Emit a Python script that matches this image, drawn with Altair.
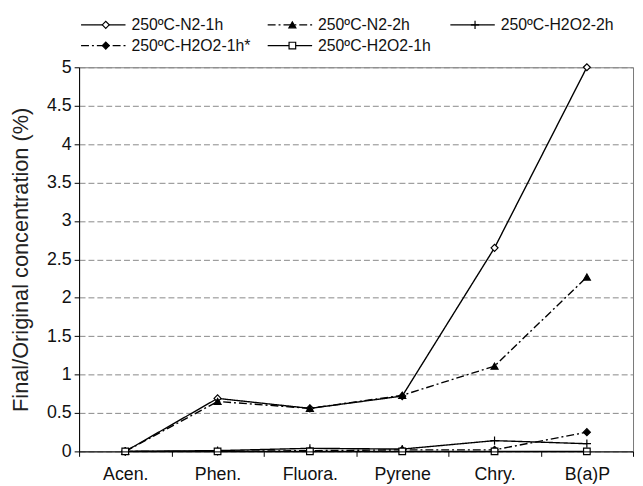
import altair as alt
import pandas as pd

# Compounds on the x axis
compounds = ["Acen.", "Phen.", "Fluora.", "Pyrene", "Chry.", "B(a)P"]

# Final/Original concentration (%)
n2_1h = [0.0, 0.69, 0.56, 0.72, 2.65, 5.0]
n2_2h = [0.0, 0.65, 0.56, 0.73, 1.11, 2.27]
h2o2_2h = [0.0, 0.01, 0.04, 0.03, 0.14, 0.10]
h2o2_1h_star = [0.0, 0.0, 0.01, 0.02, 0.02, 0.25]
h2o2_1h = [0.0, 0.0, 0.0, 0.0, 0.0, 0.0]

series_names = [
    "250ºC-N2-1h",
    "250ºC-N2-2h",
    "250ºC-H2O2-2h",
    "250ºC-H2O2-1h*",
    "250ºC-H2O2-1h",
]
series_values = [n2_1h, n2_2h, h2o2_2h, h2o2_1h_star, h2o2_1h]

y_ticks = [0, 0.5, 1, 1.5, 2, 2.5, 3, 3.5, 4, 4.5, 5]

FONT = "Liberation Sans"
PLUS = "M-1,0L1,0M0,-1L0,1"
DASHDOT = [8, 3, 2, 3]

# per series: dash, shape, fill, marker size, legend column/row
styles = [
    dict(dash=[1, 0], shape="diamond", fill="white", size=50, col=0, row=0),
    dict(dash=DASHDOT, shape="triangle-up", fill="black", size=50, col=1, row=0),
    dict(dash=[1, 0], shape=PLUS, fill="none", size=70, col=2, row=0),
    dict(dash=DASHDOT, shape="diamond", fill="black", size=50, col=0, row=1),
    dict(dash=[1, 0], shape="square", fill="white", size=45, col=1, row=1),
]

legend_cols = [2, 191, 376]
legend_rows = [-43, -22]

W, H = 561, 389

x_enc = alt.X(
    "compound:N",
    sort=compounds,
    scale=alt.Scale(type="band", domain=compounds, paddingInner=0, paddingOuter=0),
    axis=alt.Axis(
        title=None,
        tickBand="extent",
        labelAngle=0,
        labelFontSize=18,
        labelPadding=9,
        tickSize=5,
        tickColor="black",
        domainColor="black",
        labelColor="#111",
        grid=False,
        zindex=1,
    ),
)
y_enc = alt.Y(
    "value:Q",
    scale=alt.Scale(domain=[0, 5], nice=False),
    axis=alt.Axis(
        title="Final/Original concentration (%)",
        values=y_ticks,
        format="~g",
        labelFontSize=18,
        labelPadding=3,
        tickSize=5,
        tickColor="black",
        domainColor="black",
        labelColor="#111",
        titleFontSize=22,
        titleFontWeight="normal",
        titleColor="#222",
        titlePadding=14,
        grid=True,
        gridColor="#888",
        gridDash=[6, 3],
        gridWidth=1,
    ),
)

layers = []
for name, vals, st in zip(series_names, series_values, styles):
    df = pd.DataFrame({"compound": compounds, "value": vals})
    base = alt.Chart(df).encode(x=x_enc, y=y_enc)
    line = base.mark_line(color="black", strokeWidth=1.4, strokeDash=st["dash"])
    pts = base.mark_point(
        shape=st["shape"],
        size=st["size"],
        filled=False,
        fill=st["fill"],
        fillOpacity=1,
        stroke="black",
        strokeWidth=1.2,
        opacity=1,
    )
    layers += [line, pts]

# custom two-row legend above the plot
one = pd.DataFrame({"k": [0]})
for name, st in zip(series_names, styles):
    x0 = legend_cols[st["col"]]
    y0 = legend_rows[st["row"]]
    lg_line = alt.Chart(one).mark_rule(
        color="black", strokeWidth=1.3, strokeDash=st["dash"]
    ).encode(x=alt.value(x0), x2=alt.value(x0 + 45), y=alt.value(y0))
    lg_pt = alt.Chart(one).mark_point(
        shape=st["shape"],
        size=st["size"],
        filled=False,
        fill=st["fill"],
        fillOpacity=1,
        stroke="black",
        strokeWidth=1.2,
        opacity=1,
    ).encode(x=alt.value(x0 + 25), y=alt.value(y0))
    lg_txt = alt.Chart(one).mark_text(
        text=name, align="left", baseline="middle", fontSize=16, font=FONT, color="#111"
    ).encode(x=alt.value(x0 + 51), y=alt.value(y0))
    layers += [lg_line, lg_pt, lg_txt]

chart = (
    alt.layer(*layers)
    .properties(
        width=W,
        height=H,
        autosize=alt.AutoSizeParams(type="none"),
        padding={"left": 72, "top": 57, "right": 2, "bottom": 32},
        background="white",
    )
    .configure_view(stroke="#777", strokeWidth=1)
    .configure_axis(labelFont=FONT, titleFont=FONT)
    .configure_text(font=FONT)
)

chart.save("out.html", embed_options={"renderer": "svg", "actions": False})
